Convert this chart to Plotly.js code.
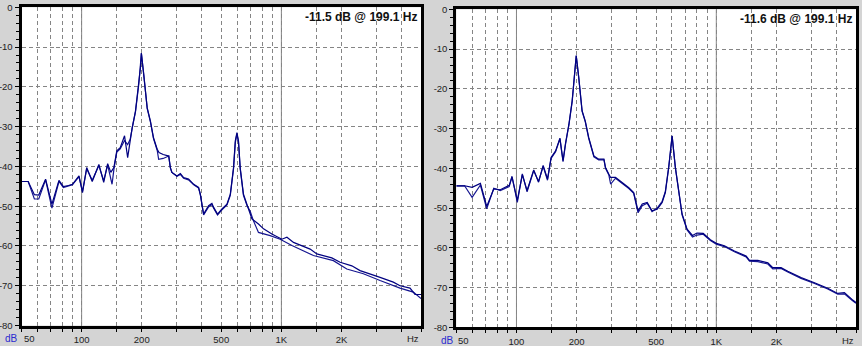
<!DOCTYPE html>
<html>
<head>
<meta charset="utf-8">
<script src="https://cdn.plot.ly/plotly-3.0.1.min.js"></script>
<style>html,body{margin:0;padding:0;background:#d4d4d4;}#chart{width:862px;height:346px;}</style>
</head>
<body>
<div id="chart"></div>
<script>
// ---- data (Hz, dB) ----
const leftFreqA = [50,54,58,61,66,71,77,81,86,90,97,101,106,113,122,129,135,140,145,150,156,164,170,175,179,186,193,197,199.1,205,213,221,229,239,244,256,273,278,283,300,312,324,343,364,385,393,408,432,449,458,479,504,534,555,576,588,599,610,622,646,672,698,712,768,814,896,1006,1066,1150,1393,1505,1788,1968,2252,2477,3119,3634,3926,4405,4667,5000];
const leftDbA = [-43.8,-43.8,-47.1,-47.2,-43.2,-49.5,-43.5,-45.1,-44.8,-44.5,-42.4,-46.6,-40.3,-43.8,-39.5,-44,-39.3,-41.5,-40.3,-36.1,-35.3,-32.3,-37.8,-33.6,-30.3,-26.1,-19.4,-15.2,-11.5,-16.9,-25.3,-28.6,-32.8,-35.7,-36.5,-37.0,-37.4,-40.3,-41.5,-42.4,-41.8,-42.8,-43.2,-44.5,-45.3,-47,-52,-49.9,-49.3,-50.3,-52,-50.7,-49.5,-47,-40.3,-33.6,-31.5,-33.6,-40.3,-47,-49.5,-51.5,-53.2,-54.5,-55.7,-57,-58.3,-57.8,-59.1,-60.8,-62,-63,-64.1,-65,-66.2,-67.9,-69.1,-70,-70.6,-72.2,-72.2];
const leftFreqB = [50,54,58,61,66,71,77,81,86,90,97,101,106,113,122,129,135,142,145,150,156,164,170,175,179,186,193,197,199.1,205,213,221,229,239,243,256,273,278,283,300,312,324,343,364,385,393,408,432,449,458,479,504,534,555,576,588,599,610,622,646,672,698,725,768,879,986,1129,1447,1821,2126,2573,3119,3926,4576,5000];
const leftDbB = [-43.8,-43.8,-48.2,-48.2,-43.4,-50.5,-43.8,-45.3,-44.9,-44.6,-42.6,-46.3,-40.6,-43.5,-39.8,-43.6,-39.6,-44.5,-40.8,-36.4,-35.6,-33.5,-34.5,-33.2,-30.5,-26.3,-19.6,-15.4,-11.6,-17.1,-25.5,-28.8,-33,-36,-38.2,-38,-37.4,-40.3,-41.5,-42.5,-42,-43,-43.4,-44.6,-45.4,-47.2,-52.2,-50.2,-49.6,-50.5,-52.2,-50.9,-49.7,-47.3,-40.6,-34,-31.8,-34,-40.6,-47.3,-49.8,-51.3,-53.7,-56.6,-57.4,-58.3,-59.9,-62.4,-63.7,-65.8,-67,-68.7,-70.6,-71.6,-73.2];

const rightFreq = [50,55,60,66,71,77,83,92,95,101,107,113,122,129,136,143,149,153,157,165,171,176,183,190,196,199.1,205,213,221,230,244,258,274,279,290,296,313,338,365,386,406,426,451,477,506,536,556,578,601,624,649,674,714,760,800,860,934,1000,1098,1232,1410,1466,1614,1811,1917,2108,2278,2655,3100,3610,4050,4375,4775,5000];
const rightDbA = [-44.4,-44.4,-44.8,-43.8,-49.6,-45.2,-45.4,-44.3,-42.2,-48.1,-41.6,-45.6,-40.4,-43.5,-39.3,-42.7,-37.3,-36.5,-35.6,-32.4,-38.1,-33.7,-28.9,-23,-15.5,-11.6,-17.1,-25.5,-28.1,-32.3,-36.9,-37.7,-37.7,-39.8,-41.5,-42.3,-42.3,-43.6,-44.9,-46.1,-50.7,-49,-48.6,-50.7,-50.3,-48.6,-46.1,-39.8,-31.8,-39.8,-46.4,-51.5,-55.3,-56.9,-56.3,-56.4,-58,-58.9,-59.5,-60.8,-62.1,-63.2,-63.2,-63.8,-65,-65,-65.9,-67.5,-68.8,-70.2,-71.5,-71.3,-73,-73.8];
const rightDbB = [-44.4,-44.4,-47.3,-44.2,-50.2,-45.0,-45.6,-44.6,-42.0,-48.6,-41.4,-45.9,-40.6,-43.3,-39.5,-43.0,-37.5,-36.7,-35.8,-32.6,-38.3,-33.9,-29.1,-23.2,-15.7,-11.7,-17.3,-25.7,-28.3,-32.5,-37.1,-37.9,-37.9,-40.0,-41.7,-44.0,-42.5,-43.8,-45.1,-46.3,-51.2,-49.4,-48.8,-50.9,-50.0,-48.3,-45.8,-39.6,-31.9,-39.9,-46.6,-51.7,-55.5,-57.3,-56.8,-56.6,-58.2,-59.1,-59.7,-61.0,-62.3,-63.4,-63.5,-64.1,-65.3,-65.2,-66.1,-67.7,-69.0,-70.4,-71.7,-71.6,-73.2,-74.0];

const peakLabels = ['-11.5 dB @ 199.1 Hz', '-11.6 dB @ 199.1 Hz'];
const xTickVals = [50,60,70,80,90,100,150,200,300,400,500,600,700,800,900,1000,1500,2000,3000,4000,5000];
const xTickText = ['','','','','','100','','200','','','500','','','','','1K','','2K','','',''];
const xEndLabels = ['50', 'Hz'];
const yTickVals = [-80,-70,-60,-50,-40,-30,-20,-10,0];
const yTickText = ['-80','-70','-60','-50','-40','-30','-20','-10','0'];
const solidGridHz = [100, 1000];
const dbRange = [-80, 0];

const fam = 'Liberation Sans, Arial, sans-serif';
const tickFont = {family: fam, size: 9.5, color: '#222'};
const navy = '#000080';
const navy2 = '#161690';

function xAxis(domain, anchor) {
  return {
    type: 'log', domain: domain, anchor: anchor,
    range: [Math.log10(50), Math.log10(5000)],
    tickmode: 'array', tickvals: xTickVals, ticktext: xTickText,
    ticks: 'outside', ticklen: 3, tickcolor: '#000', tickwidth: 1,
    showline: true, linecolor: '#000', linewidth: 3, mirror: true,
    showgrid: true, gridcolor: '#858585', gridwidth: 1, griddash: '4px,3px',
    zeroline: false, tickfont: tickFont, fixedrange: true
  };
}
function yAxis(domain, anchor) {
  return {
    domain: domain, anchor: anchor, range: dbRange,
    tickmode: 'array', tickvals: yTickVals, ticktext: yTickText,
    ticks: 'outside', ticklen: 4, tickcolor: '#000', tickwidth: 1,
    minor: {dtick: 2, tick0: 0, ticks: 'outside', ticklen: 3, tickcolor: '#000', tickwidth: 1, showgrid: false},
    showline: true, linecolor: '#000', linewidth: 3, mirror: true,
    showgrid: true, gridcolor: '#858585', gridwidth: 1, griddash: '4px,3px',
    zeroline: false, tickfont: tickFont, fixedrange: true
  };
}

const traces = [];
solidGridHz.forEach(f => {
  traces.push({x: [f, f], y: dbRange, xaxis: 'x', yaxis: 'y', mode: 'lines', line: {color: '#858585', width: 1}, hoverinfo: 'skip', showlegend: false});
  traces.push({x: [f, f], y: dbRange, xaxis: 'x2', yaxis: 'y2', mode: 'lines', line: {color: '#858585', width: 1}, hoverinfo: 'skip', showlegend: false});
});
traces.push({x: leftFreqB, y: leftDbB, xaxis: 'x', yaxis: 'y', mode: 'lines', line: {color: navy2, width: 1.2}, showlegend: false});
traces.push({x: leftFreqA, y: leftDbA, xaxis: 'x', yaxis: 'y', mode: 'lines', line: {color: navy, width: 1.2}, showlegend: false});
traces.push({x: rightFreq, y: rightDbB, xaxis: 'x2', yaxis: 'y2', mode: 'lines', line: {color: navy2, width: 1.2}, showlegend: false});
traces.push({x: rightFreq, y: rightDbA, xaxis: 'x2', yaxis: 'y2', mode: 'lines', line: {color: navy, width: 1.2}, showlegend: false});

const W = 862, H = 346;
function ann(text, xref, x, xanchor, ypx, font) {
  return {text: text, xref: xref, yref: 'paper', x: x, y: (H - ypx) / H, xanchor: xanchor, yanchor: 'middle', showarrow: false, font: font};
}
const peakFont = {family: fam, size: 12, color: '#111', weight: 'bold'};
const dbFont = {family: fam, size: 10, color: '#2a2ad0'};
const layout = {
  width: W, height: H,
  margin: {l: 0, r: 0, t: 0, b: 0},
  paper_bgcolor: '#d4d4d4', plot_bgcolor: '#ffffff',
  showlegend: false,
  xaxis: xAxis([21.5 / W, 421 / W], 'y'),
  yaxis: yAxis([(H - 325.5) / H, (H - 7.3) / H], 'x'),
  xaxis2: xAxis([456.3 / W, 856 / W], 'y2'),
  yaxis2: yAxis([(H - 327.2) / H, (H - 9.4) / H], 'x2'),
  annotations: [
    ann(peakLabels[0], 'paper', 419 / W, 'right', 16.5, peakFont),
    ann(peakLabels[1], 'paper', 854 / W, 'right', 19, peakFont),
    ann('dB', 'paper', 3 / W, 'left', 338.5, dbFont),
    ann('dB', 'paper', 439 / W, 'left', 340, dbFont),
    ann(xEndLabels[0], 'x domain', 0, 'left', 338.5, tickFont),
    ann(xEndLabels[1], 'x domain', 1, 'right', 338.5, tickFont),
    ann(xEndLabels[0], 'x2 domain', 0, 'left', 340, tickFont),
    ann(xEndLabels[1], 'x2 domain', 1, 'right', 340, tickFont)
  ]
};

Plotly.newPlot('chart', traces, layout, {staticPlot: true, displayModeBar: false});
</script>
</body>
</html>
